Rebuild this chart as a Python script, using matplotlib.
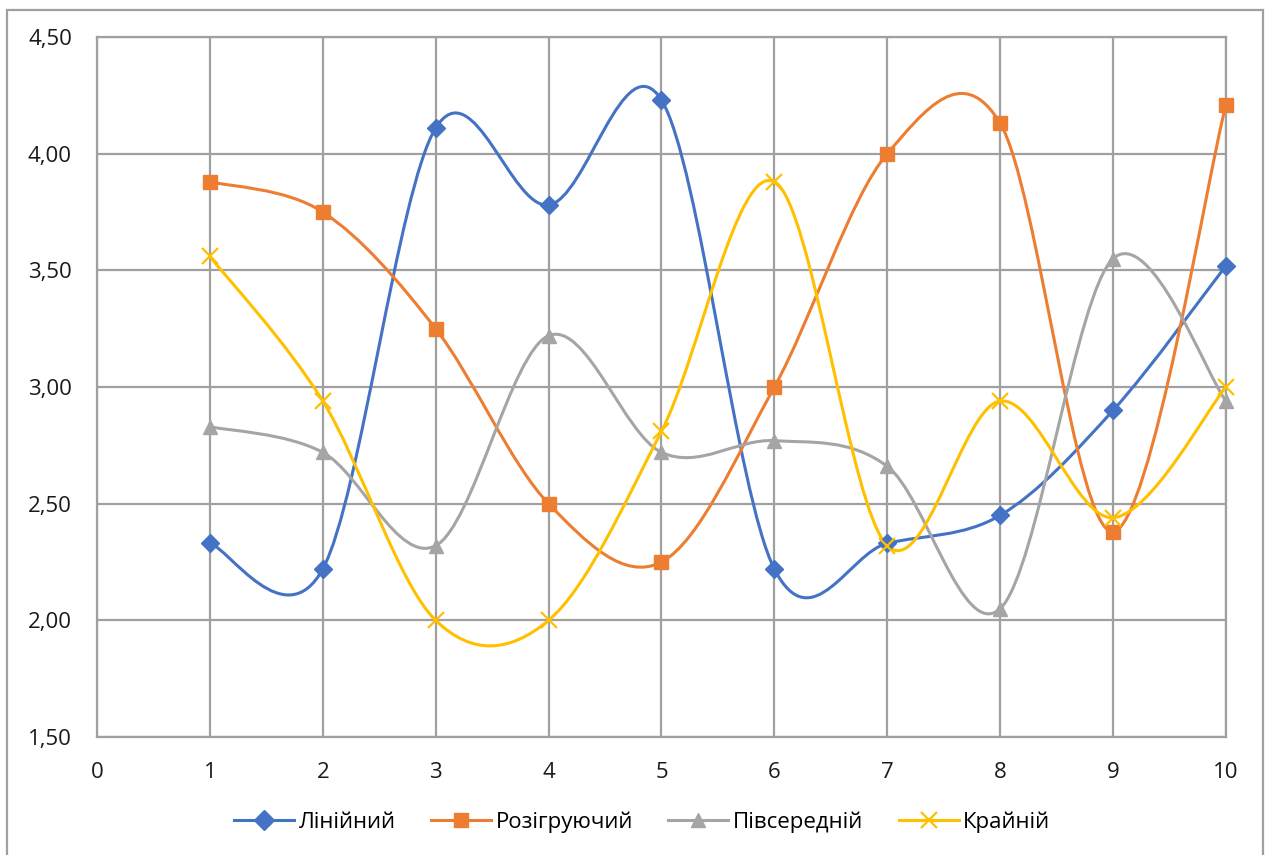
import numpy as np
import matplotlib.pyplot as plt
from matplotlib.path import Path
from matplotlib.patches import PathPatch, Rectangle
from matplotlib.lines import Line2D

plt.rcParams['font.family'] = ['Open Sans', 'DejaVu Sans']

# data
x = [1, 2, 3, 4, 5, 6, 7, 8, 9, 10]
liniinyi = [2.33, 2.22, 4.11, 3.78, 4.23, 2.22, 2.33, 2.45, 2.90, 3.52]
rozihruiuchyi = [3.88, 3.75, 3.25, 2.50, 2.25, 3.00, 4.00, 4.13, 2.38, 4.21]
pivserednii = [2.83, 2.72, 2.32, 3.22, 2.72, 2.77, 2.66, 2.05, 3.55, 2.94]
krainii = [3.56, 2.94, 2.00, 2.00, 2.81, 3.88, 2.32, 2.94, 2.44, 3.00]

names = ['Лінійний', 'Розігруючий', 'Півсередній', 'Крайній']
colors = ['#4472C4', '#ED7D31', '#A5A5A5', '#FFC000']
markers = ['D', 's', '^', 'x']


def smooth_path(xs, ys):
    # Excel-like smoothed line: cubic bezier through the points
    pts = np.column_stack([xs, ys]).astype(float)
    n = len(pts)
    verts = [pts[0]]
    codes = [Path.MOVETO]
    for i in range(n - 1):
        p0 = pts[i - 1] if i > 0 else pts[i]
        p1 = pts[i]
        p2 = pts[i + 1]
        p3 = pts[i + 2] if i + 2 < n else pts[i + 1]
        c1 = p1 + (p2 - p0) / 6.0
        c2 = p2 - (p3 - p1) / 6.0
        verts += [c1, c2, p2]
        codes += [Path.CURVE4] * 3
    return Path(verts, codes)


fig = plt.figure(figsize=(12.69, 8.55), dpi=100)
ax = fig.add_axes([0.0764, 0.138, 0.8897, 0.8187])

series = [liniinyi, rozihruiuchyi, pivserednii, krainii]
handles = []
for ys, name, c, m in zip(series, names, colors, markers):
    ax.add_patch(PathPatch(smooth_path(x, ys), facecolor='none', edgecolor=c,
                           lw=2.2, zorder=3, clip_on=False))
    if m == 'x':
        ax.plot(x, ys, ls='none', marker=m, ms=12, mew=1.6, color=c, zorder=4, clip_on=False)
    else:
        ax.plot(x, ys, ls='none', marker=m, ms=10 if m != 'D' else 9, color=c, zorder=4, clip_on=False)
    handles.append(Line2D([0], [0], color=c, lw=2.2, marker=m,
                          ms=12 if m == 'x' else 10, mew=1.6 if m == 'x' else 1))

ax.set_xlim(0, 10)
ax.set_ylim(1.5, 4.5)
ax.set_xticks(range(0, 11))
ax.set_yticks([1.5, 2.0, 2.5, 3.0, 3.5, 4.0, 4.5])
ax.set_yticklabels([f'{v:.2f}'.replace('.', ',') for v in [1.5, 2.0, 2.5, 3.0, 3.5, 4.0, 4.5]])
ax.grid(True, color='#A0A0A0', lw=1.6, zorder=0)
ax.set_axisbelow(True)
for s in ax.spines.values():
    s.set_color('#A0A0A0')
    s.set_linewidth(1.6)
ax.tick_params(length=0, labelsize=16, colors='#1a1a1a')
ax.tick_params(axis='y', pad=18)
ax.tick_params(axis='x', pad=18)

fig.legend(handles=handles, labels=names, loc='center', bbox_to_anchor=(0.506, 0.038),
           ncol=4, frameon=False, fontsize=16, handlelength=2.7, columnspacing=1.6,
           handletextpad=0.2)

fig.patches.append(Rectangle((0.0055, -0.01), 0.99, 0.998, transform=fig.transFigure,
                             fill=False, edgecolor='#A0A0A0', lw=1.6))

fig.savefig('out.png', dpi=100)
